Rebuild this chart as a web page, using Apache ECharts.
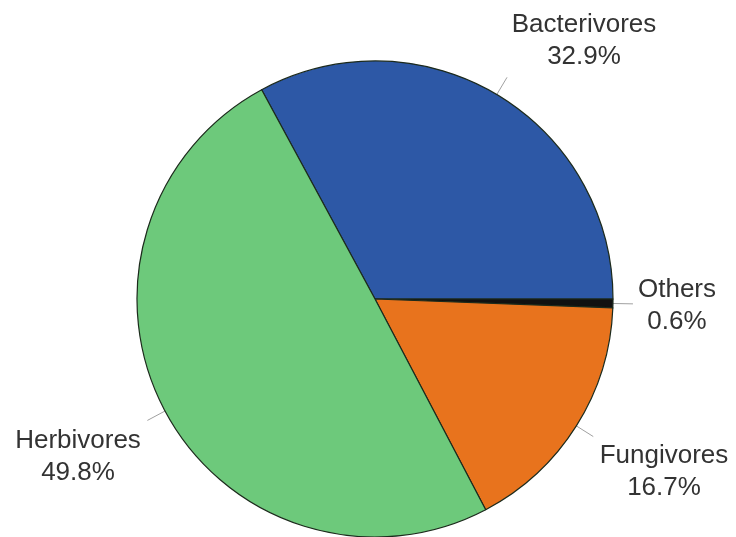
<!DOCTYPE html>
<html>
<head>
<meta charset="utf-8">
<script src="https://cdn.jsdelivr.net/npm/echarts@6/dist/echarts.min.js"></script>
<style>
  html, body { margin: 0; padding: 0; background: #fff; }
  #main { width: 736px; height: 537px; }
</style>
</head>
<body>
<div id="main"></div>
<script>
// feeding groups, clockwise from the Herbivores/Bacterivores boundary
var groups = ['Bacterivores', 'Others', 'Fungivores', 'Herbivores']
var shares = [32.9, 0.6, 16.7, 49.8]
var colors = ['#2d58a6', '#111111', '#e8731d', '#6dc97b']

// label centres (px), same order as groups
var labelCenters = [[584, 41], [677, 306], [664, 472], [78, 457]]

var chart = echarts.init(document.getElementById('main'), null, { renderer: 'canvas' })

var option = {
  animation: false,
  color: colors,
  series: [
    {
      type: 'pie',
      center: [375, 299],
      radius: 238,
      startAngle: 118.44,
      clockwise: true,
      itemStyle: {
        borderColor: '#1c2a1c',
        borderWidth: 1.2
      },
      label: {
        show: true,
        position: 'outside',
        formatter: function (p) {
          return p.name + '\n' + p.value + '%'
        },
        color: '#333',
        fontFamily: 'Liberation Sans, Arial, sans-serif',
        fontSize: 26,
        lineHeight: 32,
        align: 'center',
        overflow: 'none'
      },
      labelLine: {
        show: true,
        length: 20,
        length2: 0,
        lineStyle: { color: '#a0a0a0', width: 1 }
      },
      labelLayout: function (params) {
        var c = labelCenters[params.dataIndex]
        return {
          x: c[0],
          y: c[1],
          align: 'center',
          verticalAlign: 'middle',
          // keep the short radial leader line
          labelLinePoints: params.labelLinePoints
        }
      },
      data: groups.map(function (g, i) {
        return { name: g, value: shares[i] }
      })
    }
  ]
}

chart.setOption(option)
</script>
</body>
</html>
